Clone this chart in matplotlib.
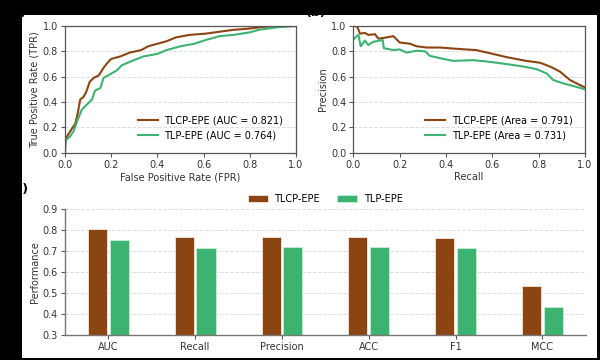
import matplotlib
matplotlib.use("Agg")
import matplotlib.pyplot as plt
from matplotlib.patches import Rectangle
import numpy as np

# ---------------- data ----------------
roc_tlcp_fpr = [0.0, 0.0, 0.016, 0.03, 0.045, 0.055, 0.066, 0.08, 0.092, 0.107, 0.124, 0.146, 0.167,
                0.184, 0.2, 0.24, 0.28, 0.33, 0.36, 0.4, 0.44, 0.48, 0.54, 0.61, 0.67, 0.73, 0.8,
                0.87, 0.92, 1.0]
roc_tlcp_tpr = [0.0, 0.1, 0.15, 0.19, 0.23, 0.31, 0.42, 0.44, 0.48, 0.56, 0.59, 0.61, 0.67,
                0.71, 0.74, 0.76, 0.79, 0.81, 0.84, 0.86, 0.88, 0.91, 0.93, 0.94, 0.955, 0.97, 0.98,
                0.995, 1.0, 1.0]
roc_tlp_fpr = [0.0, 0.004, 0.023, 0.037, 0.055, 0.073, 0.095, 0.117, 0.13, 0.153, 0.167, 0.196,
               0.225, 0.246, 0.297, 0.34, 0.4, 0.44, 0.5, 0.56, 0.61, 0.67, 0.73, 0.8, 0.84, 0.92, 1.0]
roc_tlp_tpr = [0.0, 0.1, 0.13, 0.17, 0.26, 0.34, 0.38, 0.42, 0.49, 0.51, 0.59, 0.62,
               0.65, 0.69, 0.73, 0.76, 0.78, 0.81, 0.84, 0.86, 0.89, 0.92, 0.93, 0.95, 0.97, 0.99, 1.0]

pr_tlcp_rec = [0.003, 0.017, 0.029, 0.05, 0.065, 0.094, 0.108, 0.144, 0.173, 0.2, 0.245, 0.273,
               0.317, 0.374, 0.446, 0.53, 0.59, 0.66, 0.745, 0.806, 0.849, 0.892, 0.935, 0.978, 1.0]
pr_tlcp_prec = [1.0, 0.995, 0.94, 0.945, 0.93, 0.935, 0.90, 0.91, 0.92, 0.87, 0.86, 0.84,
                0.83, 0.83, 0.82, 0.81, 0.785, 0.755, 0.725, 0.71, 0.68, 0.64, 0.574, 0.534, 0.515]
pr_tlp_rec = [0.0, 0.022, 0.032, 0.05, 0.065, 0.086, 0.115, 0.127, 0.132, 0.173, 0.2, 0.23, 0.273,
              0.31, 0.33, 0.39, 0.43, 0.518, 0.575, 0.66, 0.734, 0.79, 0.835, 0.863, 0.906, 0.95, 1.0]
pr_tlp_prec = [0.895, 0.93, 0.84, 0.885, 0.85, 0.875, 0.885, 0.89, 0.825, 0.81, 0.815, 0.79, 0.805,
               0.80, 0.765, 0.74, 0.725, 0.73, 0.72, 0.70, 0.68, 0.66, 0.625, 0.574, 0.547, 0.526, 0.5]

auc_tlcp, auc_tlp = 0.821, 0.764
area_tlcp, area_tlp = 0.791, 0.731

metrics = ["AUC", "Recall", "Precision", "ACC", "F1", "MCC"]
perf_tlcp = [0.806, 0.766, 0.768, 0.768, 0.765, 0.534]
perf_tlp = [0.752, 0.714, 0.722, 0.720, 0.714, 0.435]

# ---------------- style ----------------
BROWN = "#8B4513"
GREEN = "#3CB371"
TXT = "#333333"
SPINE = "#555555"
FS = 7

plt.rcParams["font.family"] = ["DejaVu Sans"]
plt.rcParams["font.size"] = FS

fig = plt.figure(figsize=(6, 3.6), dpi=100, facecolor="black")
fig.patches.append(Rectangle((22 / 600, 2 / 360), 575 / 600, 343 / 360,
                             transform=fig.transFigure, facecolor="white",
                             edgecolor="none", zorder=-10))

def style_ax(ax, full=True):
    for s in ax.spines.values():
        s.set_color(SPINE)
        s.set_linewidth(0.9)
    if not full:
        ax.spines["top"].set_visible(False)
        ax.spines["right"].set_visible(False)
    ax.tick_params(colors=SPINE, labelcolor=TXT, labelsize=FS, length=3, width=0.8, pad=2)
    ax.yaxis.grid(True, linestyle="--", color="#dddddd", linewidth=0.7)
    ax.set_axisbelow(True)

# (a) ROC
axa = fig.add_axes([65 / 600, 1 - 152.7 / 360, 231 / 600, 126.7 / 360])
axa.plot(roc_tlcp_fpr, roc_tlcp_tpr, color=BROWN, lw=1.5,
         label=f"TLCP-EPE (AUC = {auc_tlcp:.3f})")
axa.plot(roc_tlp_fpr, roc_tlp_tpr, color=GREEN, lw=1.5,
         label=f"TLP-EPE (AUC = {auc_tlp:.3f})")
axa.set_xlim(0, 1)
axa.set_ylim(0, 1)
axa.set_xticks(np.arange(0, 1.01, 0.2))
axa.set_yticks(np.arange(0, 1.01, 0.2))
axa.set_xlabel("False Positive Rate (FPR)", color=TXT, fontsize=FS, labelpad=2)
axa.set_ylabel("True Positive Rate (TPR)", color=TXT, fontsize=FS, labelpad=2)
style_ax(axa)
axa.legend(loc="lower right", frameon=False, fontsize=FS, handlelength=2.0,
           borderaxespad=0.9, labelspacing=0.45, handletextpad=0.7)

# (b) PR
axb = fig.add_axes([353.3 / 600, 1 - 152.7 / 360, 231.7 / 600, 126.7 / 360])
axb.plot(pr_tlcp_rec, pr_tlcp_prec, color=BROWN, lw=1.5,
         label=f"TLCP-EPE (Area = {area_tlcp:.3f})")
axb.plot(pr_tlp_rec, pr_tlp_prec, color=GREEN, lw=1.5,
         label=f"TLP-EPE (Area = {area_tlp:.3f})")
axb.set_xlim(0, 1)
axb.set_ylim(0, 1)
axb.set_xticks(np.arange(0, 1.01, 0.2))
axb.set_yticks(np.arange(0, 1.01, 0.2))
axb.set_xlabel("Recall", color=TXT, fontsize=FS, labelpad=2)
axb.set_ylabel("Precision", color=TXT, fontsize=FS, labelpad=2)
style_ax(axb)
axb.legend(loc="lower right", frameon=False, fontsize=FS, handlelength=2.0,
           borderaxespad=0.9, labelspacing=0.45, handletextpad=0.7)

# (c) bars
axc = fig.add_axes([65 / 600, 1 - 335 / 360, 520.7 / 600, 125.7 / 360])
x = np.arange(len(metrics))
w = 0.22
axc.bar(x - 0.125, perf_tlcp, w, color=BROWN, edgecolor="#f3e6dc", linewidth=0.6,
        label="TLCP-EPE")
axc.bar(x + 0.125, perf_tlp, w, color=GREEN, edgecolor="#c9eed8", linewidth=0.6,
        label="TLP-EPE")
axc.set_xticks(x)
axc.set_xticklabels(metrics)
axc.set_xlim(-0.5, 5.5)
axc.set_ylim(0.3, 0.9)
axc.set_yticks(np.arange(0.3, 0.91, 0.1))
axc.set_ylabel("Performance", color=TXT, fontsize=FS, labelpad=2)
style_ax(axc, full=False)
for s in ("left", "bottom"):
    axc.spines[s].set_color("#777777")
    axc.spines[s].set_linewidth(1.0)
axc.legend(loc="center", bbox_to_anchor=(0.5, 1.085), ncol=2, frameon=False,
           fontsize=FS, handlelength=2.0, handleheight=0.8, columnspacing=1.8,
           handletextpad=0.7)

# panel labels (partly hidden by the black surround)
fig.text(27 / 600, 1 - 19 / 360, "(a)", ha="right", va="bottom", fontsize=9,
         fontweight="bold", color="black")
fig.text(306 / 600, 1 - 19 / 360, "(b)", ha="left", va="bottom", fontsize=9,
         fontweight="bold", color="black")
fig.text(29 / 600, 1 - 196 / 360, "(c)", ha="right", va="bottom", fontsize=9,
         fontweight="bold", color="black")

fig.savefig("out.png", dpi=100, facecolor=fig.get_facecolor())
